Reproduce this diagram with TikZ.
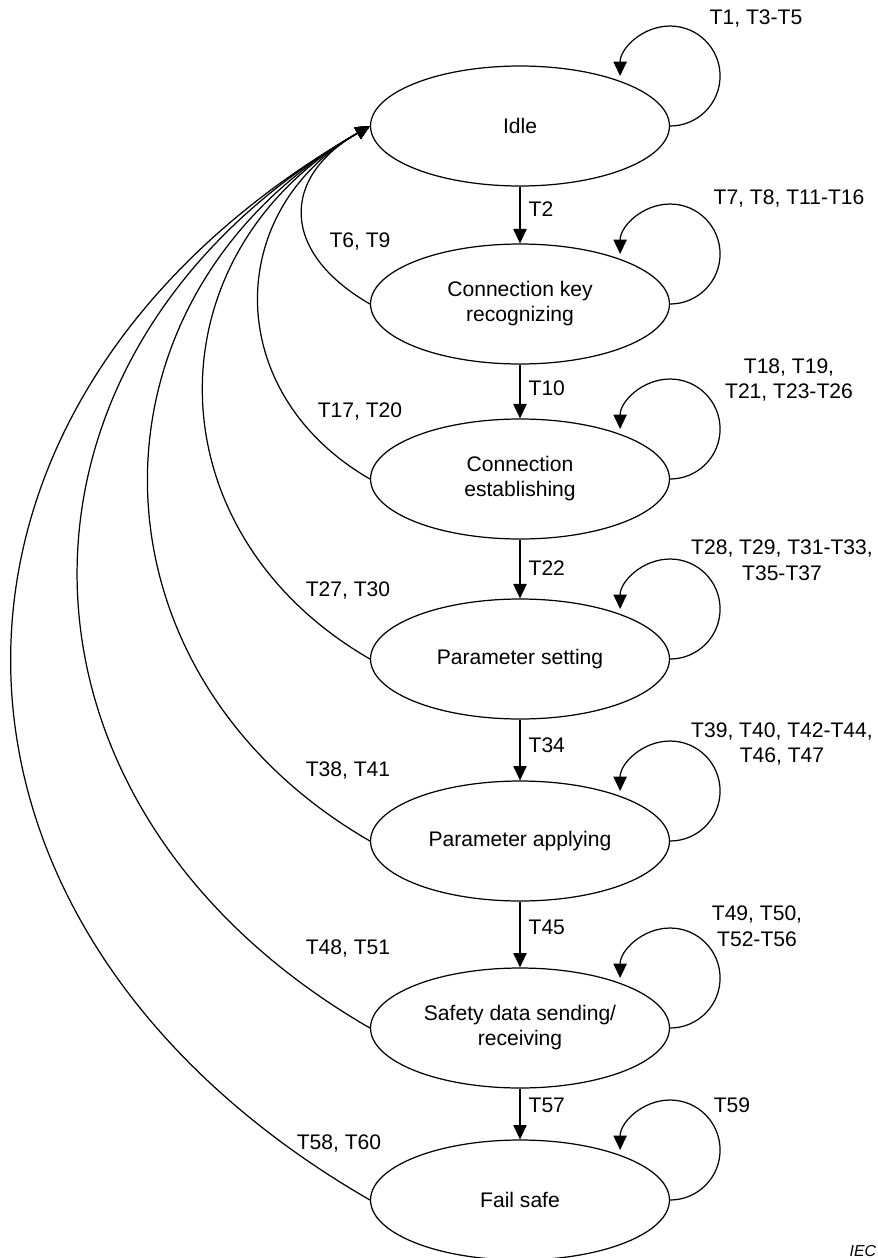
\documentclass[tikz,border=0pt]{standalone}
\usepackage{fontspec}
\setmainfont{Liberation Sans}
\usetikzlibrary{arrows.meta, shapes.geometric}

\begin{document}
\begin{tikzpicture}[x=0.02cm, y=0.02cm, line width=0.7pt,
      statebox/.style={draw, ellipse, minimum width=5.98cm, minimum height=2.4cm,
                       inner sep=0pt, align=center, font=\fontsize{12}{14.2}\selectfont},
      lbl/.style={align=center, inner sep=0pt, font=\fontsize{12}{14.6}\selectfont},
      arr/.style={-{Triangle[length=8.2pt, width=7.6pt]}}]
      \useasboundingbox (0,0) rectangle (877,-1258);

      % States
      \node[statebox] (idle) at (520,-126)  {Idle};
      \node[statebox] (ckr)  at (520,-304)  {Connection key\\recognizing};
      \node[statebox] (est)  at (520,-479)  {Connection\\establishing};
      \node[statebox] (pset) at (520,-659)  {Parameter setting};
      \node[statebox] (papp) at (520,-841)  {Parameter applying};
      \node[statebox] (sds)  at (520,-1028) {Safety data sending/\\receiving};
      \node[statebox] (fail) at (520,-1200) {Fail safe};

      % Forward transitions
      \draw[arr] (idle) -- (ckr);
      \draw[arr] (ckr)  -- (est);
      \draw[arr] (est)  -- (pset);
      \draw[arr] (pset) -- (papp);
      \draw[arr] (papp) -- (sds);
      \draw[arr] (sds)  -- (fail);
      \node[lbl, anchor=west] (t2)  at (528,-209)  {T2};
      \node[lbl, anchor=west] (t10) at (528,-388)  {T10};
      \node[lbl, anchor=west] (t22) at (528,-568)  {T22};
      \node[lbl, anchor=west] (t34) at (528,-745)  {T34};
      \node[lbl, anchor=west] (t45) at (528,-927)  {T45};
      \node[lbl, anchor=west] (t57) at (528,-1105) {T57};

      % Self loops
      \draw[arr] (idle.east) arc[start angle=-90, end angle=180, radius=1cm];
      \draw[arr] (ckr.east)  arc[start angle=-90, end angle=180, radius=1cm];
      \draw[arr] (est.east)  arc[start angle=-90, end angle=180, radius=1cm];
      \draw[arr] (pset.east) arc[start angle=-90, end angle=180, radius=1cm];
      \draw[arr] (papp.east) arc[start angle=-90, end angle=180, radius=1cm];
      \draw[arr] (sds.east)  arc[start angle=-90, end angle=180, radius=1cm];
      \draw[arr] (fail.east) arc[start angle=-90, end angle=180, radius=1cm];
      \node[lbl] (l1)  at (756,-18)   {T1, T3-T5};
      \node[lbl] (l7)  at (789,-198)  {T7, T8, T11-T16};
      \node[lbl] (l18) at (789,-380)  {T18, T19,\\T21, T23-T26};
      \node[lbl] (l28) at (782,-560)  {T28, T29, T31-T33,\\T35-T37};
      \node[lbl] (l39) at (782,-744)  {T39, T40, T42-T44,\\T46, T47};
      \node[lbl] (l49) at (757,-926)  {T49, T50,\\T52-T56};
      \node[lbl] (l59) at (732,-1105) {T59};

      % Back to idle
      \draw[arr] (ckr.west)  to[out=150, in=210, looseness=1.49] (idle.west);
      \draw[arr] (est.west)  to[out=150, in=210, looseness=1.24] (idle.west);
      \draw[arr] (pset.west) to[out=150, in=210, looseness=1.23] (idle.west);
      \draw[arr] (papp.west) to[out=150, in=210, looseness=1.22] (idle.west);
      \draw[arr] (sds.west)  to[out=150, in=210, looseness=1.275] (idle.west);
      \draw[arr] (fail.west) to[out=150, in=210, looseness=1.315] (idle.west);
      \node[lbl] (l6)  at (360,-241)  {T6, T9};
      \node[lbl] (l17) at (360,-411)  {T17, T20};
      \node[lbl] (l27) at (348,-590)  {T27, T30};
      \node[lbl] (l38) at (348,-770)  {T38, T41};
      \node[lbl] (l48) at (348,-948)  {T48, T51};
      \node[lbl] (l58) at (339,-1143) {T58, T60};

      \node[font=\fontsize{9}{10}\selectfont\itshape, anchor=base west, inner sep=0pt] (iec) at (849,-1256) {IEC};
    \end{tikzpicture}
\end{document}
